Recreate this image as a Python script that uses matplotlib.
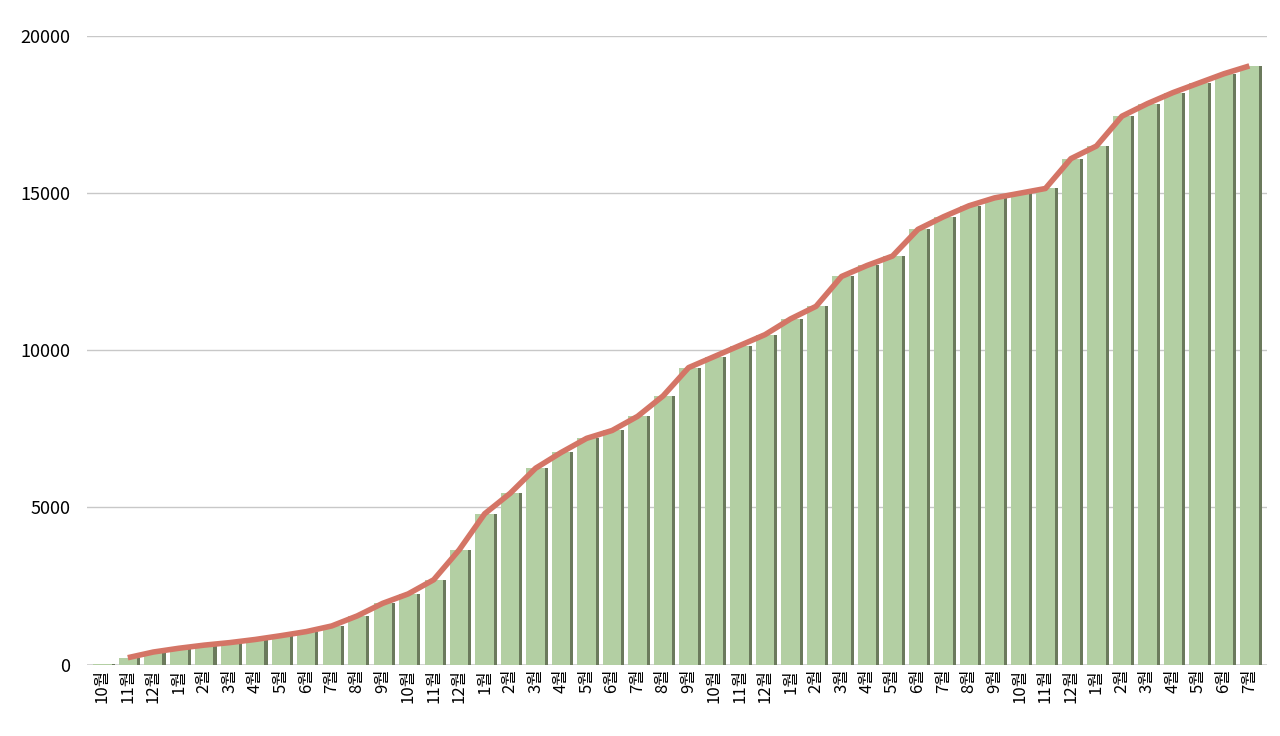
import matplotlib.pyplot as plt
import numpy as np

plt.rcParams['font.family'] = ['Noto Sans CJK KR', 'DejaVu Sans']

months = [10, 11, 12] + list(range(1, 13)) * 3 + list(range(1, 8))
labels = [f"{m}월" for m in months]
values = [30, 220, 400, 520, 620, 700, 800, 920, 1050, 1230, 1550, 1950, 2250, 2700,
          3650, 4800, 5450, 6250, 6750, 7200, 7450, 7900, 8550, 9450, 9800, 10150,
          10500, 11000, 11400, 12350, 12700, 13000, 13850, 14250, 14600, 14850,
          15000, 15150, 16100, 16500, 17450, 17850, 18200, 18500, 18800, 19050]
line_vals = values[1:]

x = np.arange(len(values))
fig = plt.figure(figsize=(12.8, 7.36), dpi=100)
ax = fig.add_axes([0.068, 0.097, 0.922, 0.854])

ax.bar(x + 0.12, values, width=0.72, color="#6b7a5c", zorder=2)
ax.bar(x, values, width=0.72, color="#b3cfa3", zorder=3)
ax.plot(x[1:], line_vals, color="#d47566", lw=4, zorder=4, solid_capstyle="butt")

ax.set_ylim(0, 20000)
ax.set_xlim(-0.6, len(values) - 0.3)
ax.set_yticks([0, 5000, 10000, 15000, 20000])
ax.grid(axis="y", color="#c8c8c8", lw=1, zorder=0)
ax.axhline(0, color="#333333", lw=1, zorder=1)
ax.set_xticks(x)
ax.set_xticklabels(labels, rotation=90, fontsize=12)
ax.tick_params(axis="y", labelsize=13, length=0, pad=12)
ax.tick_params(axis="x", length=0, pad=3)
for s in ax.spines.values():
    s.set_visible(False)

fig.savefig("out.png")
